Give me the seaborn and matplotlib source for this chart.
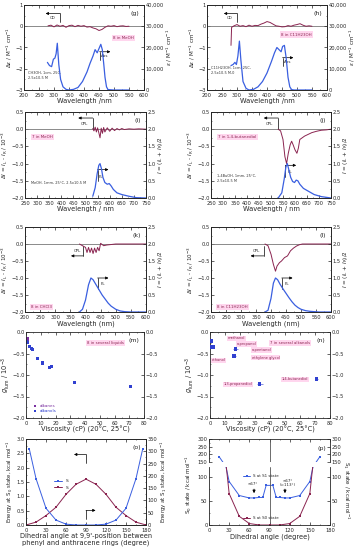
import numpy as np
import pandas as pd
import matplotlib
matplotlib.use("Agg")
import matplotlib.pyplot as plt
import seaborn as sns
from matplotlib.ticker import AutoMinorLocator, FuncFormatter

# ---------------- data ----------------
# (g) 8 in MeOH
g_cd_wl = [280,290,300,310,320,330,340,350,360,370,380,390,400,410,420,430,440,450,460,470,480,490,500,510,520,530,540,550]
g_cd = [0.02,0.05,-0.03,0.06,0.0,0.04,-0.05,0.03,0.05,-0.02,0.04,0.0,0.03,-0.04,-0.02,-0.08,-0.12,-0.2,-0.15,-0.05,0.02,0.0,0.03,-0.02,0.01,0.02,-0.01,0.0]
g_abs_wl = [278,285,292,298,303,307,311,316,322,330,340,350,365,380,395,410,420,430,437,444,450,456,461,466,470,475,480,500,550]
g_abs = [13000,11500,11000,14500,15000,17000,22000,12000,5000,1500,300,0,300,1200,4000,8500,12500,16000,19000,17500,19500,21500,19000,12000,6000,1500,200,0,0]

# (h) 8 in C11H23OH
h_cd_wl = [280,282,290,300,310,320,330,340,350,360,370,380,390,400,410,420,430,440,450,460,470,480,490,500,510,520,530,540,550]
h_cd = [-0.9,-0.05,0.02,0.08,0.0,0.03,-0.02,0.05,0.0,0.04,0.03,0.1,0.15,0.22,0.18,0.1,0.02,0.0,-0.03,-0.02,0.03,0.0,0.05,0.08,0.12,0.05,0.0,0.02,0.0]
h_abs_wl = [280,287,293,298,303,308,313,320,330,340,355,370,385,400,415,425,433,440,447,452,458,464,470,476,482,490,550]
h_abs = [11500,12000,13000,12000,16000,23000,14000,4000,800,0,300,1500,4000,8000,13500,17500,20000,19000,18000,20500,21000,15000,6000,1500,200,0,0]

# (i) 7 in MeOH
i_cpl_wl = [530,535,540,545,550,555,560,565,570,575,580,590,600,610,620,630,640,650,660,680,700,720,750]
i_cpl = [0.02,-0.05,0.06,-0.08,0.04,-0.1,-0.25,0.03,-0.12,0.05,-0.08,0.04,-0.06,0.03,-0.04,0.02,-0.02,0.02,-0.01,0.01,0.0,0.01,0.0]
i_pl_wl = [530,540,548,555,560,566,572,580,590,598,606,615,630,650,680,710,750]
i_pl = [0.05,0.3,0.7,0.95,1.0,0.85,0.6,0.45,0.4,0.42,0.35,0.25,0.15,0.1,0.05,0.01,0.0]

# (j) 7 in 1,4-butanediol
j_cpl_wl = [530,540,550,558,565,572,580,586,592,600,608,614,620,630,640,655,670,690,710,730,750]
j_cpl = [0.0,-0.05,-0.3,-0.8,-1.0,-0.7,-0.45,-0.35,-0.45,-0.6,-0.7,-0.55,-0.3,-0.25,-0.2,-0.15,-0.1,-0.06,-0.03,-0.02,0.0]
j_pl_wl = [530,545,555,562,568,575,582,590,598,605,612,620,635,655,680,710,750]
j_pl = [0.0,0.15,0.55,0.9,1.0,0.8,0.6,0.48,0.45,0.52,0.5,0.4,0.28,0.2,0.1,0.04,0.0]

# (k) 8 in CHCl3
k_cpl_wl = [380,390,400,405,410,415,420,425,430,435,440,445,450,460,470,480,500,520,550,600]
k_cpl = [0.0,-0.05,-0.1,-0.25,-0.1,-0.25,-0.12,-0.28,-0.12,-0.25,-0.1,-0.2,0.02,-0.05,-0.03,-0.02,0.0,0.0,0.0,0.0]
k_pl_wl = [380,390,400,410,418,425,435,445,455,465,475,485,500,515,530,550,600]
k_pl = [0.0,0.08,0.35,0.8,1.0,0.95,0.8,0.65,0.5,0.38,0.26,0.17,0.08,0.03,0.01,0.0,0.0]

# (l) 8 in C11H23OH
l_cpl_wl = [380,390,400,408,415,420,428,435,445,455,465,475,485,495,505,520,550,600]
l_cpl = [0.0,-0.05,-0.3,-0.6,-0.8,-0.65,-0.55,-0.5,-0.4,-0.35,-0.2,-0.12,-0.06,-0.02,0.0,0.0,0.0,0.0]
l_pl_wl = [380,390,400,408,415,422,430,440,450,460,470,480,490,500,515,530,560,600]
l_pl = [0.0,0.05,0.4,0.85,1.0,0.95,0.82,0.68,0.55,0.42,0.3,0.2,0.13,0.08,0.04,0.02,0.0,0.0]

# (m) 8 in several liquids
m_alk_x = [0.3,0.4,0.55,0.7,0.9,1.0]
m_alk_y = [-0.15,-0.22,-0.18,-0.25,-0.2,-0.15]
m_alc_x = [0.6,1.1,2.5,3.5,4.5,8.0,11.0,16.0,17.0,33.0,71.0]
m_alc_y = [-0.22,-0.25,-0.33,-0.38,-0.4,-0.61,-0.72,-0.83,-0.8,-1.17,-1.27]

# (n) 7 in several alkanols
n_names = ["methanol","ethanol","n-propanol","n-pentanol","ethylene glycol","1,3-propanediol","1,4-butanediol"]
n_x = [0.6,1.1,2.0,17.0,16.0,33.0,71.0]
n_y = [-0.22,-0.35,-0.35,-0.4,-0.55,-1.2,-1.1]

# (o) energies vs dihedral angle
o_ang = [5,15,30,45,60,75,90,105,120,135,150,165,175]
o_s1 = [309,189,68,20,3.5,0,0,0,3.5,20,68,189,309]
o_ang0 = [0,15,30,45,60,75,90,105,120,135,150,165,180]
o_s0 = [0.0,0.1,0.33,0.62,1.07,1.42,1.6,1.42,1.07,0.62,0.33,0.1,0.0]

# (p) S0 / S1 states
p_ang1 = [15,30,45,60,67,75,80,85,95,100,105,113,120,135,150,165]
p_s1 = [185,90,61,56,56,57,57,82,82,57,57,56,56,61,90,185]
p_ang0 = [15,30,45,60,75,90,105,120,135,150,165]
p_s0 = [260,65,18,3,0,0,0,3,18,65,260]

# ---------------- style ----------------
sns.set_theme(style="ticks")
plt.rcParams["font.family"] = ["DejaVu Sans"]
plt.rcParams["axes.linewidth"] = 0.6
plt.rcParams["mathtext.fontset"] = "dejavusans"

BLUE = "#3a5fe0"
MAROON = "#8a2450"
PINK = "#ffd6ee"
FS_T = 3.7
FS_L = 4.8
FS_Y = 4.1

fig = plt.figure(figsize=(3.57, 5.5), dpi=100)


def rect(l, r, t, b):
    return [l / 357, 1 - b / 550, (r - l) / 357, (b - t) / 550]


def style(ax, top=True):
    ax.tick_params(direction="in", labelsize=FS_T, length=2, width=0.5, pad=1.0, top=top)
    ax.tick_params(axis="x", pad=2.0)
    ax.tick_params(which="minor", direction="in", length=1, width=0.4, top=top)
    ax.xaxis.set_minor_locator(AutoMinorLocator(2))
    ax.yaxis.set_minor_locator(AutoMinorLocator(2))


def style_r(ax2):
    ax2.tick_params(direction="in", labelsize=FS_T, length=2, width=0.5, pad=1.0)
    ax2.tick_params(which="minor", direction="in", length=1, width=0.4)
    ax2.yaxis.set_minor_locator(AutoMinorLocator(2))


def thousands(v, p):
    return f"{int(v):,}"


def bracket(ax, x0, y0, x1, y1, txt, tx, ty):
    ax.annotate("", xy=(x1, y1), xytext=(x0, y1), xycoords="axes fraction",
                arrowprops=dict(arrowstyle="-|>", lw=0.5, color="black", mutation_scale=4,
                                shrinkA=0, shrinkB=0))
    ax.plot([x0, x0], [y0, y1], transform=ax.transAxes, color="black", lw=0.5)
    if txt:
        ax.text(tx, ty, txt, transform=ax.transAxes, fontsize=2.9, ha="center", va="center")


def spectral(r, xl, xt, ylim_l, yt_l, ylim_r, yt_r, cd_x, cd_y, ab_x, ab_y, label, xlabel,
             ylab_l, ylab_r, sample, cond, rfmt=None, lefttxt="CD", righttxt="Abs",
             cdarrow=None, abarrow=None, sample_pos=None, cond_pos=None):
    ax = fig.add_axes(rect(*r))
    ax2 = ax.twinx()
    ax.axhline(0, color="#777777", lw=0.6, zorder=1)
    sns.lineplot(x=cd_x, y=cd_y, ax=ax, color=MAROON, lw=0.7, zorder=3)
    sns.lineplot(x=ab_x, y=ab_y, ax=ax2, color=BLUE, lw=0.9, zorder=3)
    ax.set_xlim(*xl)
    ax.set_xticks(xt)
    ax.set_ylim(*ylim_l)
    ax.set_yticks(yt_l)
    ax2.set_ylim(*ylim_r)
    ax2.set_yticks(yt_r)
    if rfmt:
        ax2.yaxis.set_major_formatter(FuncFormatter(rfmt))
    style(ax)
    style_r(ax2)
    ax.set_xlabel(xlabel, fontsize=FS_L, labelpad=0.3)
    ax.set_ylabel(ylab_l, fontsize=FS_Y, labelpad=0.6)
    ax2.set_ylabel(ylab_r, fontsize=FS_Y, labelpad=0.4)
    ax.text(0.96, 0.93, label, transform=ax.transAxes, ha="right", va="top", fontsize=4.5)
    sx, sy = sample_pos
    ax.text(sx, sy, sample, transform=ax.transAxes, fontsize=2.9, color=MAROON,
            bbox=dict(fc=PINK, ec="none", pad=0.8))
    if cond:
        cx, cy = cond_pos
        ax.text(cx, cy, cond, transform=ax.transAxes, fontsize=2.5, color="#333333", va="top")
    if cdarrow:
        bracket(ax, *cdarrow[:4], lefttxt, *cdarrow[4:])
    if abarrow:
        bracket(ax, *abarrow[:4], righttxt, *abarrow[4:])
    return ax, ax2


eps_lab = r"$\varepsilon$ / M$^{-1}$ cm$^{-1}$"
deps_lab = r"$\Delta\varepsilon$ / M$^{-1}$ cm$^{-1}$"
dI_lab = r"$\Delta I$ = $I_{\rm L}$ - $I_{\rm R}$ / 10$^{-3}$"
I_lab = r"$I$ = ($I_{\rm L}$ + $I_{\rm R}$)/2"

# (g)
spectral((24, 144, 5, 90), (200, 600), [200, 250, 300, 350, 400, 450, 500, 550, 600],
         (-3, 1), [-3, -2, -1, 0, 1], (0, 40000), [0, 10000, 20000, 30000, 40000],
         g_cd_wl, g_cd, g_abs_wl, g_abs, "(g)", "Wavelength /nm", deps_lab, eps_lab,
         "8 in MeOH", "CH3OH, 1cm, 25C,\n2.5x10-5 M", rfmt=thousands,
         cdarrow=(0.3, 0.8, 0.18, 0.9, 0.24, 0.845), abarrow=(0.63, 0.35, 0.72, 0.45, 0.67, 0.4),
         sample_pos=(0.74, 0.6), cond_pos=(0.03, 0.22), lefttxt="CD", righttxt="Abs")
# (h)
spectral((207, 327, 5, 90), (200, 600), [200, 250, 300, 350, 400, 450, 500, 550, 600],
         (-3, 1), [-3, -2, -1, 0, 1], (0, 40000), [0, 10000, 20000, 30000, 40000],
         h_cd_wl, h_cd, h_abs_wl, h_abs, "(h)", "Wavelength /nm", deps_lab, eps_lab,
         "8 in C11H23OH", "C11H23OH, 1cm, 25C,\n2.5x10-5 M-0", rfmt=thousands,
         cdarrow=(0.25, 0.8, 0.14, 0.9, 0.19, 0.845), abarrow=(0.63, 0.28, 0.72, 0.38, 0.67, 0.33),
         sample_pos=(0.62, 0.64), cond_pos=(0.03, 0.28))
# (i)
spectral((25, 146, 112, 198), (250, 750), [250, 300, 350, 400, 450, 500, 550, 600, 650, 700, 750],
         (-2, 0.5), [-2.0, -1.5, -1.0, -0.5, 0.0, 0.5], (0, 2.5), [0.0, 0.5, 1.0, 1.5, 2.0, 2.5],
         i_cpl_wl, i_cpl, i_pl_wl, i_pl, "(i)", "Wavelength / nm", dI_lab, I_lab,
         "7 in MeOH", "MeOH, 1mm, 25°C, 2.5x10-5 M", rfmt=None,
         cdarrow=(0.56, 0.8, 0.44, 0.93, 0.49, 0.86), abarrow=(0.6, 0.2, 0.69, 0.33, 0.63, 0.25),
         sample_pos=(0.06, 0.7), cond_pos=(0.05, 0.2), lefttxt="CPL", righttxt="PL")
# (j)
spectral((211, 331, 112, 198), (250, 750), [250, 300, 350, 400, 450, 500, 550, 600, 650, 700, 750],
         (-2, 0.5), [-2.0, -1.5, -1.0, -0.5, 0.0, 0.5], (0, 2.5), [0.0, 0.5, 1.0, 1.5, 2.0, 2.5],
         j_cpl_wl, j_cpl, j_pl_wl, j_pl, "(j)", "Wavelength / nm", dI_lab, I_lab,
         "7 in 1,4-butanediol", "1,4BuOH, 1mm, 25°C,\n2.5x10-5 M", rfmt=None,
         cdarrow=(0.56, 0.8, 0.44, 0.93, 0.49, 0.86), abarrow=(0.62, 0.25, 0.71, 0.38, 0.66, 0.3),
         sample_pos=(0.06, 0.7), cond_pos=(0.05, 0.28), lefttxt="CPL", righttxt="PL")
# (k)
spectral((25, 146, 227, 312), (200, 600), [200, 250, 300, 350, 400, 450, 500, 550, 600],
         (-2, 0.5), [-2.0, -1.5, -1.0, -0.5, 0.0, 0.5], (0, 2.5), [0.0, 0.5, 1.0, 1.5, 2.0, 2.5],
         k_cpl_wl, k_cpl, k_pl_wl, k_pl, "(k)", "Wavelength (nm)", dI_lab, I_lab,
         "8 in CHCl3", "", rfmt=None,
         cdarrow=(0.48, 0.78, 0.38, 0.66, 0.43, 0.72), abarrow=(0.6, 0.27, 0.69, 0.4, 0.64, 0.33),
         sample_pos=(0.05, 0.05), cond_pos=(0.05, 0.3), lefttxt="CPL", righttxt="PL")
# (l)
spectral((211, 331, 227, 312), (200, 600), [200, 250, 300, 350, 400, 450, 500, 550, 600],
         (-2, 0.5), [-2.0, -1.5, -1.0, -0.5, 0.0, 0.5], (0, 2.5), [0.0, 0.5, 1.0, 1.5, 2.0, 2.5],
         l_cpl_wl, l_cpl, l_pl_wl, l_pl, "(l)", "Wavelength (nm)", dI_lab, I_lab,
         "8 in C11H23OH", "", rfmt=None,
         cdarrow=(0.44, 0.78, 0.33, 0.66, 0.38, 0.72), abarrow=(0.59, 0.27, 0.68, 0.4, 0.63, 0.33),
         sample_pos=(0.05, 0.05), cond_pos=(0.05, 0.3), lefttxt="CPL", righttxt="PL")

# (m)
ax = fig.add_axes(rect(26, 144, 332, 418))
dfm = pd.DataFrame({"x": m_alk_x + m_alc_x, "y": m_alk_y + m_alc_y,
                    "type": ["alkanes"] * len(m_alk_x) + ["alkanols"] * len(m_alc_x)})
sns.scatterplot(data=dfm, x="x", y="y", hue="type", palette={"alkanes": "#7a2fa0", "alkanols": "#3040d0"},
                s=5, marker="s", edgecolor="none", ax=ax)
ax.set_xlim(0, 80); ax.set_ylim(-2, 0)
ax.set_xticks(range(0, 81, 10)); ax.set_yticks([-2.0, -1.5, -1.0, -0.5, 0.0])
style(ax)
ax.tick_params(right=True, labelright=True)
ax.set_xlabel("Viscosity (cP) (20°C, 25°C)", fontsize=FS_L, labelpad=0.3)
ax.set_ylabel(r"$g_{\rm lum}$ / 10$^{-3}$", fontsize=FS_L, labelpad=0.2)
ax.text(0.96, 0.93, "(m)", transform=ax.transAxes, ha="right", va="top", fontsize=4.5)
ax.text(0.52, 0.86, "8 in several liquids", transform=ax.transAxes, fontsize=2.8, color=MAROON,
        bbox=dict(fc=PINK, ec="none", pad=0.8))
leg = ax.legend(loc="lower left", fontsize=3.0, frameon=False, handletextpad=0.1, markerscale=0.8,
                borderaxespad=0.8, labelspacing=0.2)
for t, c in zip(leg.get_texts(), ["#7a2fa0", "#3040d0"]):
    t.set_color(c)

# (n)
ax = fig.add_axes(rect(210, 330, 332, 418))
sns.scatterplot(x=n_x, y=n_y, ax=ax, color="#3040d0", s=8, marker="s", edgecolor="none", zorder=3)
ax.errorbar(n_x, n_y, xerr=[0.4, 0.5, 0.8, 1.5, 1.0, 2.0, 1.0], fmt="none", ecolor="#3040d0", lw=0.4)
ax.set_xlim(0, 80); ax.set_ylim(-2, 0)
ax.set_xticks(range(0, 81, 10)); ax.set_yticks([-2.0, -1.5, -1.0, -0.5, 0.0])
style(ax)
ax.tick_params(right=True, labelright=True)
ax.set_xlabel("Viscosity (cP) (20°C, 25°C)", fontsize=FS_L, labelpad=0.3)
ax.set_ylabel(r"$g_{\rm lum}$ / 10$^{-3}$", fontsize=FS_L, labelpad=0.2)
ax.text(0.96, 0.93, "(n)", transform=ax.transAxes, ha="right", va="top", fontsize=4.5)
ax.text(0.5, 0.86, "7 in several alkanols", transform=ax.transAxes, fontsize=2.8, color=MAROON,
        bbox=dict(fc=PINK, ec="none", pad=0.8))
lbls = [(12, -0.15), (1, -0.66), (18, -0.28), (28, -0.42), (28, -0.6), (9, -1.22), (48, -1.1)]
for nm, (tx, ty) in zip(n_names, lbls):
    ax.text(tx, ty, nm, fontsize=2.6, color=MAROON, va="center",
            bbox=dict(fc=PINK, ec="none", pad=0.5))

# (o)
ax = fig.add_axes(rect(26, 146, 439, 525))
ax2 = ax.twinx()
sns.lineplot(x=o_ang0, y=o_s0, ax=ax, color=MAROON, lw=0.7, marker="s", markersize=2,
             markeredgewidth=0, label="S")
sns.lineplot(x=o_ang, y=o_s1, ax=ax2, color=BLUE, lw=0.7, marker="s", markersize=2,
             markeredgewidth=0, label="S")
ax.set_xlim(0, 180); ax.set_xticks(range(0, 181, 30))
ax.set_ylim(0, 3.0); ax.set_yticks([0.0, 0.5, 1.0, 1.5, 2.0, 2.5, 3.0])
ax2.set_ylim(0, 350); ax2.set_yticks(range(0, 351, 50))
style(ax)
style_r(ax2)
ax.set_xlabel("Dihedral angle at 9,9'-position between\nphenyl and anthracene rings (degree)",
              fontsize=FS_L, labelpad=0.3, linespacing=1.0)
ax.set_ylabel(r"Energy at S$_0$ state, kcal mol$^{-1}$", fontsize=3.9, labelpad=0.6)
ax2.set_ylabel(r"Energy at S$_1$ state, kcal mol$^{-1}$", fontsize=3.9, labelpad=0.6)
ax.text(0.96, 0.93, "(o)", transform=ax.transAxes, ha="right", va="top", fontsize=4.5)
h1, l1 = ax2.get_legend_handles_labels()
h0, l0 = ax.get_legend_handles_labels()
if ax2.get_legend():
    ax2.get_legend().remove()
ax.legend(h1 + h0, l1 + l0, loc="center left", bbox_to_anchor=(0.2, 0.47), fontsize=3.2,
          frameon=False, handlelength=1.8, labelspacing=0.5)
bracket(ax, 0.5, 0.72, 0.4, 0.82, "", 0.5, 0.5)
bracket(ax, 0.5, 0.07, 0.58, 0.17, "", 0.5, 0.5)

# (p) broken axis
axu = fig.add_axes(rect(209, 330, 439, 462))
axl = fig.add_axes(rect(209, 330, 467, 525))
for a in (axu, axl):
    sns.lineplot(x=p_ang1, y=p_s1, ax=a, color=BLUE, lw=0.7, marker="s", markersize=2,
                 markeredgewidth=0, label="S at S1 state" if a is axl else None)
    a.axvline(90, color="#555555", lw=0.6)
    a.set_xlim(0, 180)
    a.set_xticks(range(0, 181, 30))
sns.lineplot(x=p_ang0, y=p_s0, ax=axl, color=MAROON, lw=0.7, marker="s", markersize=2,
             markeredgewidth=0, label="S at S0 state")
axu.set_ylim(150, 300); axu.set_yticks([150, 200, 250, 300])
axl.set_ylim(0, 120); axl.set_yticks([0, 50, 100])
for a in (axu, axl):
    style(a)
    a.tick_params(right=True, labelright=True)
axu.spines["bottom"].set_visible(False)
axl.spines["top"].set_visible(False)
axu.tick_params(bottom=False, labelbottom=False, which="both")
axl.tick_params(top=False, which="both")
axl.set_xlabel("Dihedral angle (degree)", fontsize=FS_L, labelpad=0.3)
axl.set_ylabel(r"S$_0$ state / kcal mol$^{-1}$", fontsize=FS_Y, labelpad=0.6)
axl.yaxis.set_label_coords(-0.12, 0.7)
fig.text(346 / 357, 1 - 490 / 550, r"S$_1$ state / kcal mol$^{-1}$", rotation=270,
         fontsize=FS_Y, ha="center", va="center")
axu.text(0.97, 0.6, "(p)", transform=axu.transAxes, ha="right", va="center", fontsize=4.5)
hp, lp = axl.get_legend_handles_labels()
axl.get_legend().remove()
leg1 = axl.legend([hp[0]], [lp[0]], fontsize=2.9, frameon=False, loc="center left",
                  bbox_to_anchor=(0.25, 0.84), handlelength=1.8)
axl.add_artist(leg1)
axl.legend([hp[1]], [lp[1]], fontsize=2.9, frameon=False, loc="center left",
           bbox_to_anchor=(0.25, 0.12), handlelength=1.8)
axl.annotate("", xy=(67, 60), xytext=(67, 80),
             arrowprops=dict(arrowstyle="-|>", lw=0.6, color="black", mutation_scale=4))
axl.text(65, 83, "≈67°", fontsize=2.9, ha="center")
axl.annotate("", xy=(113, 60), xytext=(113, 80),
             arrowprops=dict(arrowstyle="-|>", lw=0.6, color="black", mutation_scale=4))
axl.text(117, 81, "≈67°\n(=113°)", fontsize=2.9, ha="center", linespacing=1.0)

fig.savefig("out.png", dpi=100)
